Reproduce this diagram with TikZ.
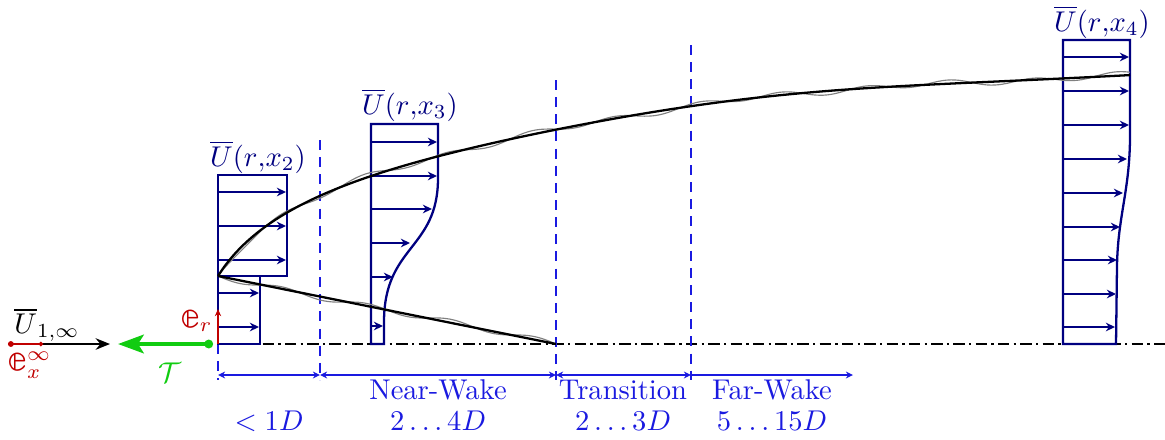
\documentclass[tikz,border=0pt]{standalone}
\usepackage{amsmath,amssymb}
\usepackage{graphicx}
\usepackage{fontspec}
\usepackage{tikz}
\usetikzlibrary{arrows.meta}
\newfontfamily\lmmath{latinmodern-math.otf}
\newcommand{\bbe}{\text{\scalebox{1.35}{\lmmath 𝕖}}}
\definecolor{profNavy}{HTML}{000080}
\definecolor{zoneBlue}{HTML}{1A1AE0}
\definecolor{vecRed}{HTML}{C00000}
\definecolor{thrustGreen}{HTML}{11CC11}

\begin{document}
\begin{tikzpicture}[
  x=0.35pt, y=-0.35pt,
  profile/.style={draw=profNavy, thick},
  vel/.style={profNavy, semithick, -{Stealth[length=3.2pt,width=3pt]}},
  zone/.style={zoneBlue, dash pattern=on 3.5pt off 2.5pt},
  span/.style={zoneBlue, {Stealth[length=2.5pt,width=2.4pt]}-{Stealth[length=2.5pt,width=2.4pt]}},
  wake/.style={black, thick},
  turb/.style={gray, thin},
  axis/.style={black, thin, dash pattern=on 4pt off 1.5pt on 0.8pt off 1.5pt},
  lbl/.style={text=profNavy},
  zlbl/.style={text=zoneBlue}
]
  \useasboundingbox (0,0) rectangle (1165,439);

  % Coordinates
  \coordinate (hub) at (218,344);
  \coordinate (tip) at (218,276);
  \coordinate (merge) at (556,344);

  % Axis and zones
  \draw[axis] (hub) -- (1165,344);
  \foreach \x/\t in {218/344, 320/140, 556/80, 691/45}
    \draw[zone] (\x,\t) -- (\x,380);
  \draw[span] (218,375) -- (320,375);
  \draw[span] (320,375) -- (556,375);
  \draw[span] (556,375) -- (691,375);
  \draw[zoneBlue, -{Stealth[length=2.5pt,width=2.4pt]}] (691,375) -- (853,375);

  % Zone labels
  \node[zlbl] (nearLbl) at (438,390) {Near-Wake};
  \node[zlbl] (transLbl) at (623,390) {Transition};
  \node[zlbl] (farLbl) at (772,390) {Far-Wake};
  \node[zlbl] (rotorLen) at (269,421) {$<1D$};
  \node[zlbl] (nearLen) at (438,421) {$2\dots4D$};
  \node[zlbl] (transLen) at (623,421) {$2\dots3D$};
  \node[zlbl] (farLen) at (772,421) {$5\dots15D$};

  % Velocity profiles
  \draw[profile] (218,276) rectangle (260,344);
  \draw[profile] (218,175) rectangle (287,276);
  \foreach \y in {293,327}
    \draw[vel] (218,\y) -- (259,\y);
  \foreach \y in {192,226,260}
    \draw[vel] (218,\y) -- (286,\y);

  \draw[profile] (384,344) -- (371,344) -- (371,124) -- (438,124) -- (438,178)
    .. controls (438,250) and (384,245) .. (384,322) -- cycle;
  \foreach \y/\x in {142/437, 176/437, 209/432, 243/410, 277/393, 326/383}
    \draw[vel] (371,\y) -- (\x,\y);

  \draw[profile] (1063,344) -- (1063,40) -- (1130,40) -- (1130,135)
    .. controls (1130,190) and (1118,215) .. (1117,265) -- (1116,344) -- cycle;
  \foreach \y/\x in {57/1129, 91/1129, 125/1129, 159/1127, 193/1123, 227/1120, 260/1117, 294/1116, 327/1115}
    \draw[vel] (1063,\y) -- (\x,\y);

  \node[lbl] (profTwo) at (258,157) {$\overline{U}(r{,}x_2)$};
  \node[lbl] (profThree) at (410,105) {$\overline{U}(r{,}x_3)$};
  \node[lbl] (profFour) at (1102,22) {$\overline{U}(r{,}x_4)$};

  % Wake boundaries
  \draw[turb] plot[domain=0:912, samples=230, smooth]
    ({218+\x}, {276-63*ln(1+\x/40)-10*exp(-((\x-550)/250)*((\x-550)/250))+2.8*sin(4.3*\x)+1.2*sin(1.9*\x)});
  \draw[turb] plot[domain=0:338, samples=90, smooth]
    ({218+\x}, {276+0.2012*\x+2.8*sin(4.26*\x)+0.8*sin(1.065*\x)});
  \draw[wake] plot[domain=0:912, samples=160, smooth]
    ({218+\x}, {276-63*ln(1+\x/40)-10*exp(-((\x-550)/250)*((\x-550)/250))});
  \draw[wake] (tip) -- (merge);

  % Inflow, thrust, unit vectors
  \coordinate (inStart) at (8,344);
  \coordinate (inEnd) at (110,344);
  \coordinate (exEnd) at (43,344);
  \coordinate (thrustTip) at (118,344);
  \coordinate (thrustStart) at (213,344);
  \coordinate (erEnd) at (218,309);
  \draw[thick, -{Stealth[length=5pt,width=4pt]}] (inStart) -- (inEnd);
  \draw[vecRed, semithick, {Circle[length=2pt]}-{Circle[length=1.5pt]}] (inStart) -- (exEnd);
  \draw[thrustGreen, line width=1.5pt, {Circle[length=3pt]}-{Stealth[length=9pt,width=6.5pt,inset=2pt]}] (thrustStart) -- (thrustTip);
  \draw[vecRed, semithick, -{Stealth[length=2.5pt,width=2.2pt]}] (hub) -- (erEnd);

  \node (inLbl) at (47,325) {$\overline{U}_{1,\infty}$};
  \node[text=vecRed] (exLbl) at (30,365) {$\bbe_x^\infty$};
  \node[text=thrustGreen] (thrustLbl) at (170,373) {$\mathcal{T}$};
  \node[text=vecRed, anchor=east, inner sep=1pt] (erLbl) at (216,321) {$\bbe_r$};
\end{tikzpicture}
\end{document}
